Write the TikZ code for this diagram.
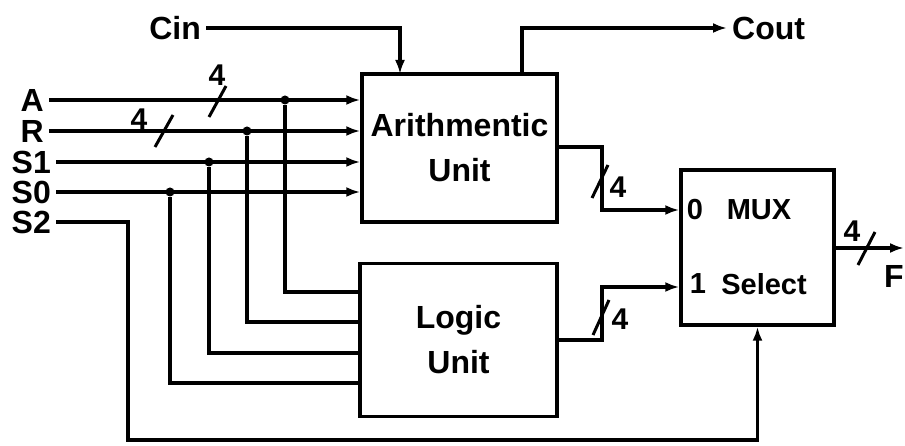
\documentclass[tikz,border=0pt]{standalone}
\usepackage{fontspec}
\setmainfont{Liberation Sans}
\usetikzlibrary{arrows.meta,positioning,calc}
\tikzset{
 unitbox/.style={draw,line width=3.4pt,inner sep=0pt,align=center,font=\fontsize{32}{45}\selectfont\bfseries},
 wire/.style={line width=3.2pt},
 sig/.style={wire,-{Latex[length=14pt,width=10pt]}},
 jdot/.style={circle,fill,inner sep=0pt,minimum size=9pt},
 lbl/.style={font=\fontsize{32}{34}\selectfont\bfseries,inner sep=5pt},
 muxlbl/.style={font=\fontsize{29}{31}\selectfont\bfseries,inner sep=0pt},
 buslbl/.style={font=\fontsize{30}{32}\selectfont\bfseries,inner sep=0pt},
 slash/.style={line width=3pt}
}
\begin{document}
\begin{tikzpicture}[x=1pt,y=-1pt]
\useasboundingbox (0,0) rectangle (905,446);
% Units and multiplexer.
\node[unitbox,minimum width=195pt,minimum height=148pt] (au) at (459.5,148) {Arithmentic\\Unit};
\node[unitbox,minimum width=197pt,minimum height=153pt] (lu) at (458.5,340) {Logic\\Unit};
\node[draw,line width=3.4pt,minimum width=153pt,minimum height=155pt] (mux) at (757.5,247.5) {};
\node[muxlbl] (mux0) at (695,210) {0};
\node[muxlbl] (muxname) at (759,210) {MUX};
\node[muxlbl] (mux1) at (698,284) {1};
\node[muxlbl] (muxsel) at (764,284) {Select};
% Inputs.
\node[lbl,anchor=east] (cin) at (206,28) {Cin};
\node[lbl,anchor=west] (cout) at (727,28) {Cout};
\node[lbl,anchor=east] (inA) at (49,100) {A};
\node[lbl,anchor=east] (inR) at (49,131) {R};
\node[lbl,anchor=east] (inS1) at (56,162) {S1};
\node[lbl,anchor=east] (inS0) at (56,192) {S0};
\node[lbl,anchor=east] (inS2) at (56,222) {S2};
\node[lbl] (outF) at (894,276) {F};
\coordinate (auCin) at (400,74);
\coordinate (auCout) at (522,74);
\draw[sig] (cin.east) -| (auCin);
\draw[sig] (auCout) |- (cout.west);
\foreach \n in {A,R,S1,S0} {
 \draw[sig] (in\n.east) -- (in\n.east -| au.west);
}
% Branches to the logic unit.
\foreach \n/\x/\y in {A/285/292,R/247/322,S1/209/353,S0/170/383} {
 \node[jdot] (j\n) at (\x,0 |- in\n.east) {};
 \draw[wire] (j\n) |- (lu.west |- 0,\y);
}
\coordinate (s2low) at (128,440);
\draw[sig] (inS2.east) -| (s2low) -| (mux.south);
% Unit outputs into the multiplexer.
\coordinate (auOut) at (au.east |- 0,147);
\coordinate (auBend) at (602,210);
\coordinate (luOut) at (lu.east |- 0,340);
\coordinate (luBend) at (602,287);
\draw[sig] (auOut) -| (auBend) -- (mux.west |- auBend);
\draw[sig] (luOut) -| (luBend) -- (mux.west |- luBend);
\coordinate (muxOut) at (mux.east |- 0,248);
\coordinate (fEnd) at (904,248);
\draw[sig] (muxOut) -- (fEnd);
% Bus widths.
\draw[slash] (209,117) -- (226,86);
\node[buslbl] (wA) at (217,75) {4};
\draw[slash] (155,147) -- (173,115);
\node[buslbl] (wR) at (139,119) {4};
\draw[slash] (592,198) -- (608,165);
\node[buslbl] (wAU) at (618,187) {4};
\draw[slash] (593,335) -- (609,300);
\node[buslbl] (wLU) at (620,319) {4};
\draw[slash] (858,265) -- (875,232);
\node[buslbl] (wF) at (852,231) {4};
\end{tikzpicture}
\end{document}
